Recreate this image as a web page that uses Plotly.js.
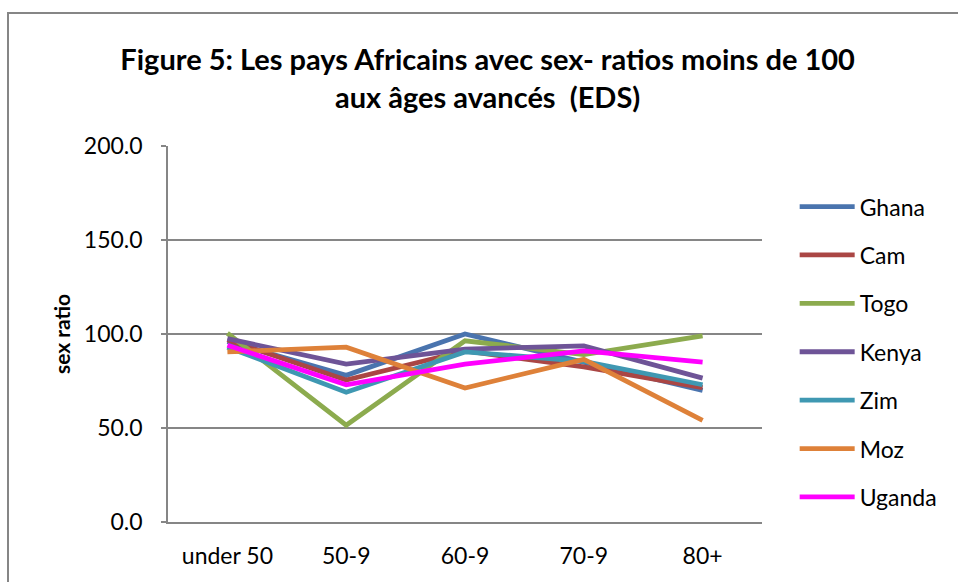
<!DOCTYPE html>
<html>
<head>
<meta charset="utf-8">
<script src="https://cdn.plot.ly/plotly-3.0.1.min.js"></script>
<style>
html,body{margin:0;padding:0;background:#fff;overflow:hidden;}
#wrap{position:relative;width:958px;height:582px;overflow:hidden;background:#fff;}
#frame{position:absolute;left:7px;top:12px;width:1100px;height:800px;border:2px solid #868686;box-sizing:border-box;}
#chart{position:absolute;left:0;top:0;width:958px;height:582px;}
</style>
</head>
<body>
<div id="wrap"><div id="frame"></div><div id="chart"></div></div>
<script>
const categories = ["under 50", "50-9", "60-9", "70-9", "80+"];
const ghana  = [96.0, 78.0, 100.0, 85.0, 70.0];
const cam    = [97.0, 75.5, 91.0, 82.5, 71.5];
const togo   = [100.4, 51.5, 96.4, 89.0, 99.0];
const kenya  = [97.5, 84.0, 92.0, 93.7, 76.5];
const zim    = [93.0, 69.0, 90.5, 85.5, 73.0];
const moz    = [90.5, 93.0, 71.3, 86.5, 54.0];
const uganda = [94.0, 73.0, 84.0, 91.0, 85.0];

const seriesNames = ["Ghana", "Cam", "Togo", "Kenya", "Zim", "Moz", "Uganda"];
const seriesValues = [ghana, cam, togo, kenya, zim, moz, uganda];
const seriesColors = ["#4A74AE", "#AA4644", "#8CAB4E", "#6E5497", "#3F98B2", "#DE8139", "#FF00FF"];

const FONT = "Lato, 'Open Sans', 'Liberation Sans', sans-serif";

const traces = seriesNames.map((name, i) => ({
  type: "scatter",
  mode: "lines",
  name: name,
  legendgroup: name,
  x: categories,
  y: seriesValues[i],
  line: {color: seriesColors[i], width: 4.8},
  hoverinfo: "x+y+name"
}));

const layout = {
  width: 958,
  height: 582,
  paper_bgcolor: "rgba(0,0,0,0)",
  plot_bgcolor: "rgba(0,0,0,0)",
  margin: {l: 168, r: 196, t: 146, b: 60, pad: 0},
  font: {family: FONT, color: "#000000", size: 23},
  title: {
    text: "<b>Figure 5: Les pays Africains avec sex- ratios moins de 100<br>aux âges avancés  (EDS)</b>",
    font: {family: FONT, size: 29, color: "#000000"},
    x: 0.509,
    xanchor: "center",
    y: 0.88,
    yanchor: "top"
  },
  xaxis: {
    type: "category",
    range: [-0.5, 4.5],
    showgrid: false,
    showline: true,
    linecolor: "#868686",
    linewidth: 1.5,
    ticks: "",
    ticklabelstandoff: 13,
    tickfont: {family: FONT, size: 23, color: "#000000"},
    zeroline: false,
    fixedrange: true
  },
  yaxis: {
    range: [0, 200],
    tickvals: [0, 50, 100, 150, 200],
    ticktext: ["0.0", "50.0", "100.0", "150.0", "200.0"],
    showgrid: true,
    gridcolor: "#868686",
    gridwidth: 1.5,
    showline: true,
    linecolor: "#868686",
    linewidth: 1.5,
    ticks: "outside",
    ticklen: 5,
    tickcolor: "#868686",
    tickwidth: 1.5,
    ticklabelstandoff: 14,
    tickfont: {family: FONT, size: 23, color: "#000000"},
    zeroline: false,
    fixedrange: true,
    title: {
      text: "<b>sex ratio</b>",
      font: {family: FONT, size: 21, color: "#000000"},
      standoff: 8
    }
  },
  legend: {
    x: 1.055,
    xanchor: "left",
    y: 0.896,
    yanchor: "top",
    font: {family: FONT, size: 23, color: "#000000"},
    tracegroupgap: 15.5,
    itemwidth: 55,
    bgcolor: "rgba(0,0,0,0)"
  },
  showlegend: true
};

Plotly.newPlot("chart", traces, layout, {displayModeBar: false});
</script>
</body>
</html>
